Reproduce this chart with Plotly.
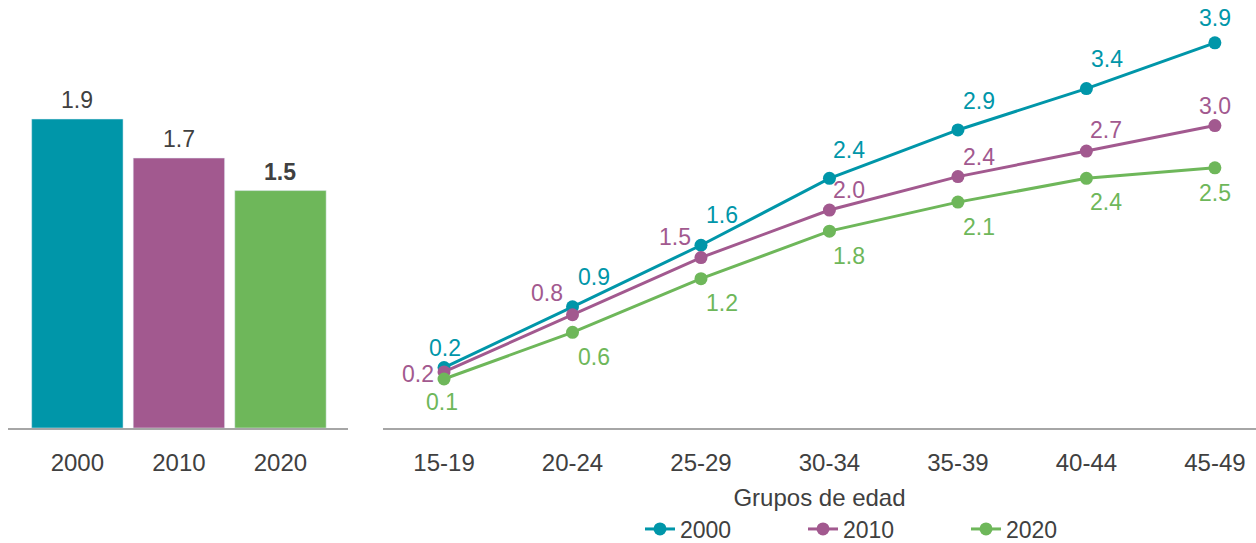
import plotly.graph_objects as go

# ---- data ----
bar_years = ["2000", "2010", "2020"]
bar_values = [1.90, 1.66, 1.46]

age_groups = ["15-19", "20-24", "25-29", "30-34", "35-39", "40-44", "45-49"]
series_names = ["2000", "2010", "2020"]
vals_2000 = [0.21, 0.90, 1.60, 2.36, 2.91, 3.38, 3.90]
vals_2010 = [0.16, 0.81, 1.46, 2.00, 2.38, 2.67, 2.96]
vals_2020 = [0.08, 0.61, 1.22, 1.76, 2.09, 2.36, 2.48]

# ---- styles ----
colors = ["#0096A9", "#A2598F", "#6EB75A"]
text_color = "#404040"
axis_color = "#A6A6A6"
FONT = "Liberation Sans, Arial, sans-serif"

# label offsets in pixels (xshift, yshift) per point
off_2000 = [(1, 20), (21, 30), (21, 30), (20, 28), (21, 29), (21, 30), (0, 25)]
off_2010 = [(-26, -2), (-26, 22), (-26, 21), (20, 20), (21, 20), (20, 21), (0, 20)]
off_2020 = [(-2, -23), (21, -25), (21, -24), (20, -25), (21, -25), (20, -24), (0, -25)]

fig = go.Figure()

# bar chart
fig.add_trace(go.Bar(
    x=bar_years, y=bar_values, marker_color=colors, width=0.9,
    xaxis="x", yaxis="y", showlegend=False, hoverinfo="skip",
))

# line chart
all_vals = [vals_2000, vals_2010, vals_2020]
all_offs = [off_2000, off_2010, off_2020]
for name, vals, col in zip(series_names, all_vals, colors):
    fig.add_trace(go.Scatter(
        x=age_groups, y=vals, name=name, mode="lines+markers",
        line=dict(color=col, width=3), marker=dict(color=col, size=13),
        xaxis="x2", yaxis="y2",
    ))

annotations = []
for i, v in enumerate(bar_values):
    txt = f"{v:.1f}"
    if i == 2:
        txt = f"<b>{txt}</b>"
    annotations.append(dict(
        x=i, y=v, xref="x", yref="y", text=txt, showarrow=False,
        xanchor="center", yanchor="middle", yshift=19,
        font=dict(family=FONT, size=23, color=text_color),
    ))

for vals, offs, col in zip(all_vals, all_offs, colors):
    for g, v, (dx, dy) in zip(age_groups, vals, offs):
        annotations.append(dict(
            x=g, y=v, xref="x2", yref="y2", text=f"{v:.1f}", showarrow=False,
            xanchor="center", yanchor="middle", xshift=dx, yshift=dy,
            font=dict(family=FONT, size=23, color=col),
        ))

W, H = 1256, 543
fig.update_layout(
    width=W, height=H,
    margin=dict(l=0, r=0, t=0, b=115, autoexpand=False),
    paper_bgcolor="white", plot_bgcolor="white",
    font=dict(family=FONT, size=24, color=text_color),
    xaxis=dict(
        domain=[8.3 / W, 348.3 / W], range=[-0.68, 2.668], type="category",
        showline=True, linecolor=axis_color, linewidth=2, showgrid=False,
        ticks="", ticklabelstandoff=12, tickfont=dict(size=24, color=text_color),
        automargin=False, fixedrange=True,
    ),
    yaxis=dict(domain=[0, 1], range=[0, 2.632], visible=False, automargin=False),
    xaxis2=dict(
        domain=[383 / W, 1.0], range=[-0.475, 6.32], type="category",
        showline=True, linecolor=axis_color, linewidth=2, showgrid=False,
        ticks="", ticklabelstandoff=12, tickfont=dict(size=24, color=text_color),
        title=dict(text="Grupos de edad", standoff=14, font=dict(size=24, color=text_color)),
        anchor="y2", automargin=False,
    ),
    yaxis2=dict(domain=[0, 1], range=[-0.477, 4.387], visible=False, anchor="x2",
                automargin=False),
    legend=dict(
        orientation="h", x=640 / W, xanchor="left", y=-0.236, yanchor="middle",
        font=dict(size=23, color=text_color), entrywidth=118, entrywidthmode="pixels",
        bgcolor="rgba(0,0,0,0)", tracegroupgap=0,
    ),
    annotations=annotations,
    showlegend=True,
)

fig.write_html("out.html", config={"displayModeBar": False},
               post_script="document.body.style.margin='0';")
